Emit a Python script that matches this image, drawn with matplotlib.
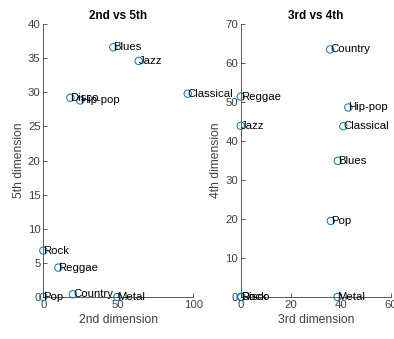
import matplotlib
matplotlib.use('Agg')
import matplotlib.pyplot as plt

plt.rcParams['font.family'] = ['Liberation Sans', 'DejaVu Sans']

genres_a = ['Blues', 'Jazz', 'Disco', 'Hip-pop', 'Classical', 'Rock', 'Reggae', 'Pop', 'Country', 'Metal']
dim2 = [46.6, 63.5, 18.0, 24.6, 96.2, 0.0, 10.0, 0.0, 19.7, 49.3]
dim5 = [36.6, 34.6, 29.2, 28.8, 29.8, 6.8, 4.3, 0.0, 0.4, 0.0]

genres_b = ['Country', 'Reggae', 'Hip-pop', 'Jazz', 'Classical', 'Blues', 'Pop', 'Rock', 'Disco', 'Metal']
dim3 = [35.7, 0.0, 43.0, 0.0, 41.0, 38.8, 36.0, 0.0, 0.3, 38.7]
dim4 = [63.5, 51.4, 48.6, 43.9, 43.8, 34.9, 19.5, 0.0, 0.0, 0.0]

blue = (0, 0.447, 0.741)
gray = '#404040'

fig = plt.figure(figsize=(3.94, 3.39), dpi=100)
ax1 = fig.add_axes([0.110, 0.124, 0.381, 0.805])
ax2 = fig.add_axes([0.611, 0.124, 0.381, 0.805])

def panel(ax, x, y, names, xlim, ylim, xt, yt, title, xl, yl):
    ax.scatter(x, y, s=28, facecolors='none', edgecolors=blue, linewidths=0.7, clip_on=False, zorder=3)
    for xi, yi, n in zip(x, y, names):
        ax.text(xi, yi, n, ha='left', va='center', fontsize=8.2, color='black', zorder=4)
    ax.set_xlim(*xlim)
    ax.set_ylim(*ylim)
    ax.set_xticks(xt)
    ax.set_yticks(yt)
    for s in ['top', 'right']:
        ax.spines[s].set_visible(False)
    for s in ['left', 'bottom']:
        ax.spines[s].set_color(gray)
        ax.spines[s].set_linewidth(0.6)
    ax.tick_params(direction='in', length=3, width=0.6, colors=gray, labelsize=8.2, pad=2)
    ax.set_title(title, fontsize=8.5, fontweight='bold', pad=4)
    ax.set_xlabel(xl, fontsize=8.7, color=gray, labelpad=3)
    ax.set_ylabel(yl, fontsize=8.7, color=gray, labelpad=2)

panel(ax1, dim2, dim5, genres_a, (0, 100), (0, 40), [0, 50, 100], range(0, 41, 5),
      '2nd vs 5th', '2nd dimension', '5th dimension')
panel(ax2, dim3, dim4, genres_b, (0, 60), (0, 70), [0, 20, 40, 60], range(0, 71, 10),
      '3rd vs 4th', '3rd dimension', '4th dimension')

fig.savefig('out.png', dpi=100, facecolor='white')
